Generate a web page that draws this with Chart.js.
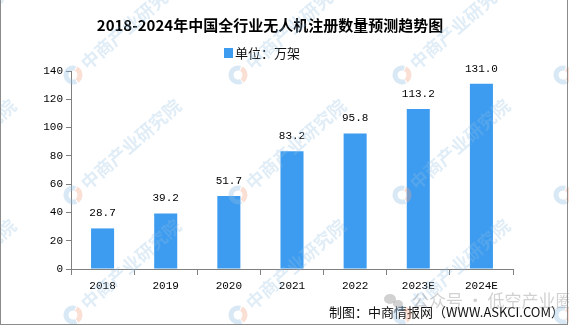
<!DOCTYPE html>
<html lang="zh-CN">
<head>
<meta charset="UTF-8">
<title>2018-2024年中国全行业无人机注册数量预测趋势图</title>
<script src="https://cdn.jsdelivr.net/npm/chart.js@4.4.1/dist/chart.umd.min.js"></script>
<style>
  html, body { margin: 0; padding: 0; background: #fff; }
  #wrap { width: 569px; height: 327px; position: relative; }
</style>
</head>
<body>
<div id="wrap"><canvas id="drone-chart"></canvas></div>
<script>
  // Registered drones, unit: 10k
  const years = ["2018", "2019", "2020", "2021", "2022", "2023E", "2024E"];
  const registrations = [28.7, 39.2, 51.7, 83.2, 95.8, 113.2, 131.0];
  const yTicks = [0, 20, 40, 60, 80, 100, 120, 140];
  const chartTitle = "2018-2024年中国全行业无人机注册数量预测趋势图";
  const unitLabel = "单位：万架";

  const barColor = "#3d9cf0";
  const numFont = "'Liberation Mono', 'DejaVu Sans Mono', monospace";
  const cjkFont = "'Noto Sans CJK SC', 'Noto Sans', sans-serif";

  // Value above each bar
  const barLabels = {
    id: "barLabels",
    afterDatasetsDraw(chart) {
      const { ctx } = chart;
      const meta = chart.getDatasetMeta(0);
      ctx.save();
      ctx.font = "11px " + numFont;
      ctx.fillStyle = "#000";
      ctx.textAlign = "center";
      ctx.textBaseline = "middle";
      meta.data.forEach((bar, i) => {
        ctx.fillText(registrations[i].toFixed(1), bar.x, bar.y - 15);
      });
      ctx.restore();
    },
  };

  // Title and the unit legend, placed by hand above the plot
  const header = {
    id: "header",
    afterDraw(chart) {
      const { ctx } = chart;
      ctx.save();
      ctx.fillStyle = "#000";
      ctx.font = "bold 15px " + cjkFont;
      ctx.textAlign = "center";
      ctx.textBaseline = "middle";
      ctx.fillText(chartTitle, 270, 25);

      ctx.fillStyle = barColor;
      ctx.fillRect(224, 48, 9, 10);
      ctx.fillStyle = "#111";
      ctx.font = "13px " + cjkFont;
      ctx.textAlign = "left";
      ctx.fillText(unitLabel, 235, 53);
      ctx.restore();
    },
  };

  // Frame, source line and faint watermarks
  const decorations = {
    id: "decorations",
    afterDraw(chart) {
      const { ctx } = chart;
      const w = chart.width;
      const h = chart.height;
      ctx.save();

      // source line
      ctx.font = "13px " + cjkFont;
      ctx.fillStyle = "#111";
      ctx.textAlign = "right";
      ctx.textBaseline = "middle";
      ctx.fillText("制图：中商情报网（WWW.ASKCI.COM）", 564, 312);

      // repeated company mark
      const cols = [-92, 73, 238, 402, 563];
      const rows = [75, 195, 315];
      rows.forEach((ly) => {
        cols.forEach((lx) => {
          ctx.save();
          ctx.translate(lx, ly);
          ctx.globalAlpha = 0.35;
          ctx.lineWidth = 5;
          ctx.strokeStyle = "#8fbde3";
          ctx.beginPath();
          ctx.arc(0, 0, 7, 0.35 * Math.PI, 1.6 * Math.PI);
          ctx.stroke();
          ctx.strokeStyle = "#f0a383";
          ctx.beginPath();
          ctx.arc(0, 0, 7, 1.65 * Math.PI, 0.3 * Math.PI);
          ctx.stroke();
          ctx.rotate(-0.72);
          ctx.globalAlpha = 0.28;
          ctx.fillStyle = "#8fbde3";
          ctx.font = "bold 18px " + cjkFont;
          ctx.textAlign = "left";
          ctx.textBaseline = "middle";
          ctx.fillText("中商产业研究院", 14, 0);
          ctx.restore();
        });
      });

      // account mark near the bottom right
      ctx.globalAlpha = 0.45;
      ctx.fillStyle = "#9a9a9a";
      ctx.beginPath();
      ctx.ellipse(390, 299, 6, 5, 0, 0, Math.PI * 2);
      ctx.fill();
      ctx.beginPath();
      ctx.ellipse(398, 304, 5, 4, 0, 0, Math.PI * 2);
      ctx.fill();
      ctx.font = "17px " + cjkFont;
      ctx.textAlign = "left";
      ctx.textBaseline = "middle";
      ctx.fillText("公众号 · 低空产业圈", 412, 301);
      ctx.globalAlpha = 1;

      // outer frame
      ctx.strokeStyle = "#8c8c8c";
      ctx.lineWidth = 1;
      ctx.strokeRect(0.5, -1, w - 2, h - 1.5);
      ctx.restore();
    },
  };

  const ctx = document.getElementById("drone-chart");

  new Chart(ctx, {
    type: "bar",
    data: {
      labels: years,
      datasets: [
        {
          label: unitLabel,
          data: registrations,
          backgroundColor: barColor,
          borderWidth: 0,
          barPercentage: 0.365,
          categoryPercentage: 1,
        },
      ],
    },
    options: {
      responsive: true,
      maintainAspectRatio: false,
      animation: false,
      layout: {
        padding: { left: 0, right: 56, top: 71, bottom: 36 },
      },
      plugins: {
        tooltip: { enabled: false },
        title: { display: false },
        legend: { display: false },
      },
      scales: {
        x: {
          grid: {
            display: true,
            drawOnChartArea: false,
            offset: true,
            color: "#808080",
            tickLength: 6,
          },
          border: { color: "#808080" },
          ticks: {
            color: "#000",
            font: { family: numFont, size: 11 },
            padding: 4,
            maxRotation: 0,
          },
          afterFit(scale) {
            scale.height = 22;
          },
        },
        y: {
          min: 0,
          max: 140,
          afterBuildTicks(scale) {
            scale.ticks = yTicks.map((v) => ({ value: v }));
          },
          grid: {
            display: true,
            drawOnChartArea: false,
            color: "#808080",
            tickLength: 5,
          },
          border: { color: "#808080" },
          ticks: {
            color: "#000",
            font: { family: numFont, size: 11 },
            padding: 3,
          },
          afterFit(scale) {
            scale.width = 71;
          },
        },
      },
    },
    plugins: [barLabels, header, decorations],
  });
</script>
</body>
</html>
